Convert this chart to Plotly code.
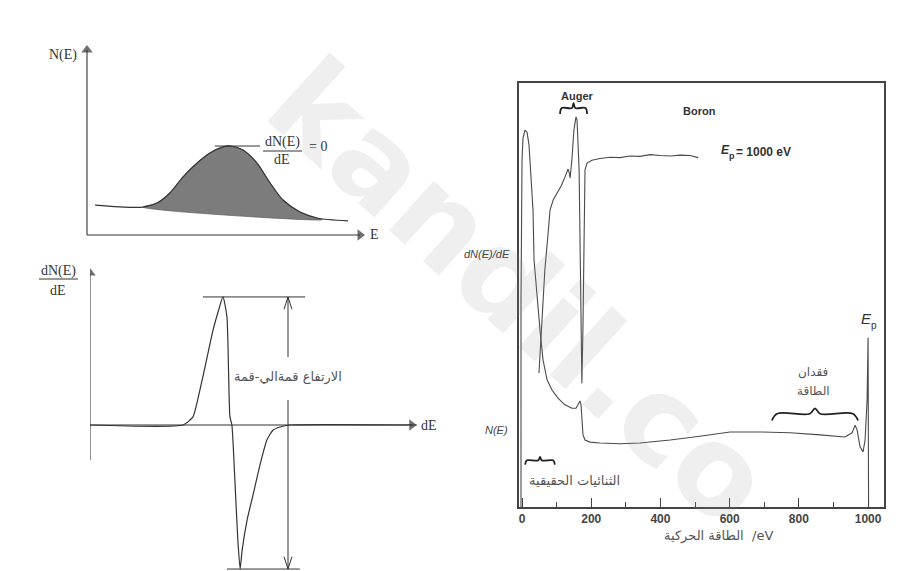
import plotly.graph_objects as go

W, H = 912, 571

# ---------------- data ----------------
# Top-left schematic: N(E) vs E (arbitrary units)
NE_E = [0.29, 2.0, 2.5, 2.96, 3.43, 3.93, 4.39, 4.86, 5.11, 5.57, 6.07, 6.54, 7.0, 7.61, 8.21, 9.32]
NE_N = [1.62, 1.51, 1.73, 2.27, 3.14, 3.89, 4.43, 4.76, 4.81, 4.59, 3.89, 2.81, 1.89, 1.24, 0.92, 0.76]
BASE_E = [2.0, 8.4]
BASE_N = [1.51, 0.82]
TANGENT_E = [4.57, 6.18]

# Bottom-left schematic: dN(E)/dE vs E (arbitrary units)
DN_E = [0, 2.82, 3.12, 3.33, 3.55, 3.73, 3.88, 4.03, 4.15, 4.24, 4.30, 4.39, 4.48, 4.55,
        4.61, 4.76, 4.94, 5.15, 5.36, 5.55, 5.76, 6.06, 9.9]
DN_V = [0, 0, 0.62, 2.69, 5.23, 7.31, 8.69, 9.85, 8.31, 0.62, 0, -4.23, -8.85, -11.08,
        -9.62, -7.31, -5.38, -3.08, -1.15, -0.38, -0.15, 0, 0]
PP_TOP_E = [3.42, 6.52]
PP_BOT_E = [4.15, 6.36]
PP_ARROW_E = 6.0

# Right panel: Boron spectrum, kinetic energy (eV) vs intensity (arb.)
DNDE_EV = [49, 55, 61, 66, 75, 81, 90, 101, 113, 124, 130, 133, 136, 139, 144, 150, 156, 159,
           165, 168, 170, 173, 176, 179, 182, 188, 202, 225, 255, 283, 312, 341, 370, 399,
           428, 457, 486, 509]
DNDE_Y = [31.6, 39.4, 48.8, 55.9, 64.2, 70.0, 72.4, 74.1, 75.7, 77.8, 79.0, 79.7, 79.0, 77.6,
          81.8, 88.9, 92.0, 91.3, 79.5, 60.6, 41.7, 29.2, 41.7, 65.3, 79.5, 81.1, 81.8, 82.2,
          82.5, 82.4, 82.8, 82.7, 83.1, 82.9, 82.8, 83.0, 82.9, 82.4]

NE_EV = [-2.9, -2.9, 0, 2.9, 8.7, 14.5, 20.2, 23.1, 28.9, 31.8, 34.7, 43.4, 52.0, 60.7, 72.3,
         86.7, 104, 124, 144.5, 156, 162, 167.6, 170.5, 173.4, 176.3, 182, 196.5, 225, 283,
         341, 428, 514, 601, 688, 775, 861, 933, 953.8, 962.4, 968.2, 976.9, 985.5, 991.3,
         997.1, 1000, 1001.4]
NE_Y = [0, 48.8, 81.8, 87.0, 88.9, 88.4, 85.4, 81.8, 74.8, 70.0, 58.3, 48.8, 41.7, 34.7, 30.0,
        27.6, 25.7, 24.1, 23.3, 23.3, 24.1, 25.0, 24.1, 20.5, 17.0, 15.8, 15.3, 15.1, 14.9,
        15.1, 15.8, 16.7, 17.7, 17.7, 17.5, 17.0, 16.5, 17.5, 19.3, 18.2, 14.2, 13.0, 15.8,
        25.2, 39.9, 0]

X_TICKS = [0, 200, 400, 600, 800, 1000]

# ---------------- helpers ----------------
def P(x, y):
    return x / W, 1 - y / H

LINE = "#333333"
GRAY = "#555555"
SERIF = "Liberation Serif"
SANS = "Liberation Sans"
AR = "DejaVu Sans"

fig = go.Figure()


def seg(xs, ys, xr, yr, color=LINE, width=1.1, shape="linear"):
    fig.add_trace(go.Scatter(x=xs, y=ys, mode="lines", line=dict(color=color, width=width, shape=shape),
                             xaxis=xr, yaxis=yr, hoverinfo="skip"))


def axis_arrow(x0, y0, x1, y1, xr, yr, symbol):
    fig.add_trace(go.Scatter(x=[x0, x1], y=[y0, y1], mode="lines+markers",
                             line=dict(color=LINE, width=1.1),
                             marker=dict(symbol=symbol, size=[0, 10], color=LINE, line=dict(width=0)),
                             xaxis=xr, yaxis=yr, hoverinfo="skip"))


# top-left fill polygon (curve above the sloped baseline)
poly_x = [e for e in NE_E if BASE_E[0] <= e <= BASE_E[1]]
poly_y = [n for e, n in zip(NE_E, NE_N) if BASE_E[0] <= e <= BASE_E[1]]
poly_x += [BASE_E[1], BASE_E[0]]
poly_y += [BASE_N[1], BASE_N[0]]
fig.add_trace(go.Scatter(x=poly_x, y=poly_y, fill="toself", fillcolor="#7c7c7c",
                         line=dict(color="#666666", width=0.8, shape="spline", smoothing=0.8),
                         mode="lines", xaxis="x", yaxis="y", hoverinfo="skip"))
fig.add_trace(go.Scatter(x=NE_E, y=NE_N, mode="lines",
                         line=dict(color=LINE, width=1.2, shape="spline", smoothing=0.8),
                         xaxis="x", yaxis="y"))
peak_n = max(NE_N)
seg(TANGENT_E, [peak_n, peak_n], "x", "y", width=1)

# axes of the top-left panel
axis_arrow(0, 0, 0, 10.0, "x", "y", "triangle-up")
axis_arrow(0, 0, 9.75, 0, "x", "y", "triangle-right")

# bottom-left derivative curve
fig.add_trace(go.Scatter(x=DN_E, y=DN_V, mode="lines",
                         line=dict(color=LINE, width=1.2, shape="spline", smoothing=0.5),
                         xaxis="x2", yaxis="y2"))
vmax, vmin = max(DN_V), min(DN_V)
seg(PP_TOP_E, [vmax, vmax], "x2", "y2", width=1)
seg(PP_BOT_E, [vmin, vmin], "x2", "y2", width=1)
axis_arrow(0, -2.69, 0, 11.7, "x2", "y2", "triangle-up")
axis_arrow(0, 0, 9.75, 0, "x2", "y2", "triangle-right")

# peak-to-peak double arrow with open heads
seg([PP_ARROW_E, PP_ARROW_E], [vmax, 5.23], "x2", "y2", width=1)
seg([PP_ARROW_E, PP_ARROW_E], [1.92, vmin], "x2", "y2", width=1)
dx, dy = 0.12, 0.95
seg([PP_ARROW_E - dx, PP_ARROW_E, PP_ARROW_E + dx], [vmax - dy, vmax, vmax - dy], "x2", "y2", width=1)
seg([PP_ARROW_E - dx, PP_ARROW_E, PP_ARROW_E + dx], [vmin + dy, vmin, vmin + dy], "x2", "y2", width=1)

# right panel curves
fig.add_trace(go.Scatter(x=DNDE_EV, y=DNDE_Y, mode="lines",
                         line=dict(color="#4a4a4a", width=1.1), xaxis="x3", yaxis="y3"))
fig.add_trace(go.Scatter(x=NE_EV, y=NE_Y, mode="lines",
                         line=dict(color="#4a4a4a", width=1.1), xaxis="x3", yaxis="y3"))


def brace(x0, x1, y, h, xr, yr):
    xm = (x0 + x1) / 2
    d = (x1 - x0) * 0.06
    xs = [x0, x0 + d, xm - d, xm, xm + d, x1 - d, x1]
    ys = [y - h, y, y, y + h * 0.8, y, y, y - h]
    seg(xs, ys, xr, yr, color="#222", width=1.8, shape="spline")

brace(110, 188, 94.1, 1.4, "x3", "y3")     # Auger
brace(722, 971, 22.0, 1.6, "x3", "y3")     # energy loss
brace(9, 95, 11.0, 1.0, "x3", "y3")        # true secondaries

ann = []

def text(xp, yp, s, size=14, family=SERIF, color=LINE, xanchor="center", weight="normal",
         angle=0, style="normal"):
    x, y = P(xp, yp)
    ann.append(dict(x=x, y=y, xref="paper", yref="paper", text=s, showarrow=False,
                    xanchor=xanchor, yanchor="middle", textangle=angle,
                    font=dict(family=family, size=size, color=color, weight=weight, style=style)))

# faint watermark (drawn first, under the other texts)
text(520, 292, "kandil.co", size=122, family="DejaVu Sans", color="rgba(150,150,150,0.15)",
     angle=42, weight="bold")

# left labels
text(79, 55, "N(E)", size=14, xanchor="right")
text(368, 234, "E", size=14, xanchor="left")
text(282, 142, "dN(E)", size=14)
text(282, 159, "dE", size=14)
text(318, 146, "= 0", size=14)
text(58, 271, "dN(E)", size=14)
text(58, 290, "dE", size=14)
text(419, 425, "dE", size=14, xanchor="left")
text(288, 377, "الارتفاع قمةالي-قمة", size=13, family=AR, color=GRAY)

# fraction bars
for (xa, xb, yy) in [(263, 302, 151), (39, 78, 279)]:
    fig.add_shape(type="line", xref="paper", yref="paper",
                  x0=xa / W, x1=xb / W, y0=1 - yy / H, y1=1 - yy / H,
                  line=dict(color=LINE, width=1))

# right labels
text(577, 96, "Auger", size=11, family=SANS, weight="bold", color="#333")
text(699, 111, "Boron", size=11, family=SANS, weight="bold", color="#333")
text(719, 150, "E", size=12, family=SANS, weight="bold", color="#333", xanchor="left", style="italic")
text(727, 156, "p", size=9, family=SANS, weight="bold", color="#333", xanchor="left")
text(734, 152, "= 1000 eV", size=12, family=SANS, weight="bold", color="#333", xanchor="left")
text(487, 254, "dN(E)/dE", size=11, family=SANS, color="#444", style="italic")
text(496, 430, "N(E)", size=11, family=SANS, color="#444", style="italic")
text(866, 318, "E", size=15, family=SANS, color="#333", style="italic")
text(874, 325, "p", size=10, family=SANS, color="#333")
text(813, 372, "فقدان", size=12, family=AR, color=GRAY)
text(813, 391, "الطاقة", size=12, family=AR, color=GRAY)
text(574, 480, "الثنائيات الحقيقية", size=13, family=AR, color=GRAY)
text(718, 536, "الطاقة الحركية  /eV", size=13, family=AR, color=GRAY)

fig.update_layout(
    width=W, height=H, margin=dict(l=0, r=0, t=0, b=0),
    paper_bgcolor="white", plot_bgcolor="rgba(0,0,0,0)", showlegend=False,
    annotations=ann,
    xaxis=dict(domain=[78.6 / W, 375.4 / W], range=[-0.3, 10.3], visible=False),
    yaxis=dict(domain=[1 - 244.25 / H, 1 - 40.75 / H], range=[-0.5, 10.5], visible=False),
    xaxis2=dict(domain=[90 / W, 420 / W], range=[0, 10], visible=False, anchor="y2"),
    yaxis2=dict(domain=[0, 1 - 260 / H], range=[-146 / 13, 165 / 13], visible=False, anchor="x2"),
    xaxis3=dict(domain=[519 / W, 884 / W], range=[-8.7, 1046], anchor="y3",
                showline=True, mirror=True, linecolor="#444", linewidth=1.5,
                ticks="inside", tickmode="array", tickvals=X_TICKS, ticklen=9, tickwidth=1.2,
                tickcolor="#444",
                minor=dict(ticks="inside", dtick=100, tick0=0, ticklen=5, tickcolor="#444", tickwidth=1.2),
                showgrid=False, zeroline=False,
                tickfont=dict(family=SANS, size=12, color="#444", weight="bold")),
    yaxis3=dict(domain=[1 - 507 / H, 1 - 83 / H], range=[0, 100], anchor="x3",
                showline=True, mirror=True, linecolor="#444", linewidth=1.5,
                showticklabels=False, ticks="", showgrid=False, zeroline=False),
)

fig.write_html("out.html", config={"displayModeBar": False},
               post_script="document.body.style.margin='0px';document.body.style.overflow='hidden';")
